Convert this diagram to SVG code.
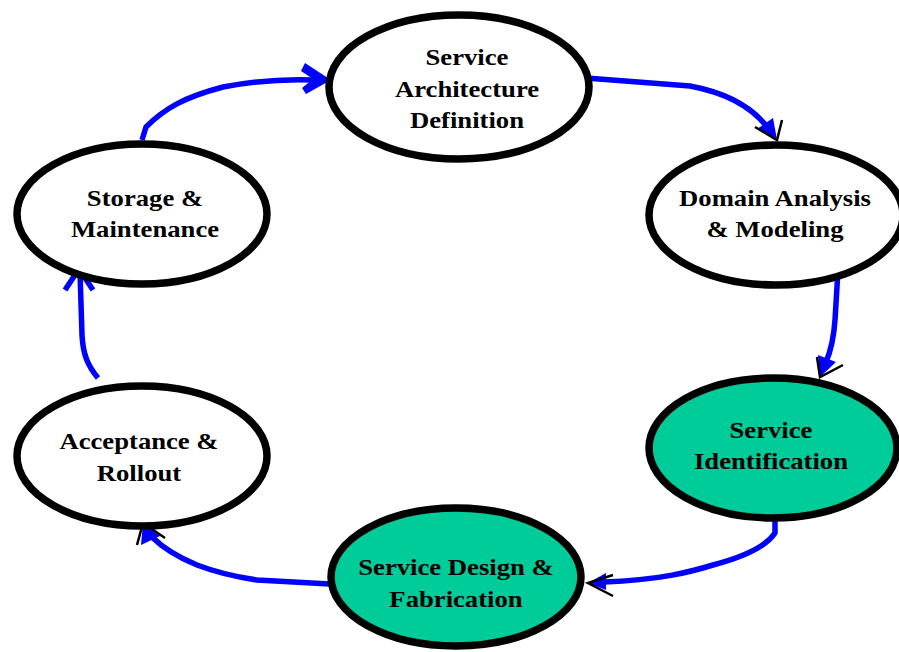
<svg xmlns="http://www.w3.org/2000/svg" width="899" height="652" viewBox="0 0 899 652">
  <style>
    .node { fill: #ffffff; stroke: #000000; stroke-width: 7.5; }
    .node.active { fill: #00cc99; }
    .label { font-family: "Liberation Serif", "Times New Roman", serif; font-weight: bold; font-size: 23px; fill: #000000; text-anchor: middle; }
    .flow { fill: none; stroke: #0000ff; stroke-width: 5.5; stroke-linejoin: round; }
    .head { fill: #0000ff; stroke: none; }
    .tick { fill: none; stroke: #000000; stroke-width: 2.5; }
    .openhead { fill: none; stroke: #0000ff; stroke-width: 5.5; stroke-linejoin: miter; }
  </style>
  <rect width="899" height="652" fill="#ffffff"/>

  <g id="connectors">
    <!-- Storage & Maintenance -> Service Architecture Definition -->
    <path class="flow" d="M142,140 L146,127 C165,108 185,97 223,87 C260,80 290,79 314,80"/>
    <path class="head" d="M331,80 L305,63 L301,71 L313,79 L302,88 L306,94 Z"/>
    <!-- Service Architecture Definition -> Domain Analysis & Modeling -->
    <path class="flow" d="M586,78 L690,86 C722,92 750,104 768,128"/>
    <polygon class="head" points="777,140 773,118 757,129"/>
    <polyline class="tick" points="755,127 777,140 782,120"/>
    <!-- Domain Analysis & Modeling -> Service Identification -->
    <path class="flow" d="M838,270 L835,320 C834,335 832,348 826,362"/>
    <polygon class="head" points="820,377 836,362 818,355"/>
    <polyline class="tick" points="817,357 820,377 843,365"/>
    <!-- Service Identification -> Service Design & Fabrication -->
    <path class="flow" d="M775,521 L775,533 C765,548 740,558 713,565 C690,572 660,580 604,582"/>
    <polygon class="head" points="588,583 606,573 606,590"/>
    <polyline class="tick" points="613,575 588,583 613,596"/>
    <!-- Service Design & Fabrication -> Acceptance & Rollout -->
    <path class="flow" d="M330,584 L257,580 C230,576 210,570 197,565 C180,558 165,550 152,537"/>
    <polygon class="head" points="143,523 141,545 160,536"/>
    <polyline class="tick" points="137,545 143,523 165,538"/>
    <!-- Acceptance & Rollout -> Storage & Maintenance -->
    <path class="flow" d="M98,378 C88,366 83,355 82,335 L80,272"/>
    <polyline class="openhead" points="65,290 79,269 93,290"/>
  </g>

  <g id="node-architecture">
    <ellipse class="node" cx="459" cy="87" rx="130" ry="72"/>
    <g transform="translate(467,0) scale(1.16,1)">
      <text class="label" x="0" y="65">Service</text>
      <text class="label" x="0" y="97">Architecture</text>
      <text class="label" x="0" y="128">Definition</text>
    </g>
  </g>

  <g id="node-domain">
    <ellipse class="node" cx="776" cy="215" rx="127" ry="70"/>
    <g transform="translate(775,0) scale(1.16,1)">
      <text class="label" x="0" y="206">Domain Analysis</text>
      <text class="label" x="0" y="237">&amp; Modeling</text>
    </g>
  </g>

  <g id="node-identification">
    <ellipse class="node active" cx="773" cy="448" rx="124" ry="70"/>
    <g transform="translate(771,0) scale(1.16,1)">
      <text class="label" x="0" y="438">Service</text>
      <text class="label" x="0" y="469">Identification</text>
    </g>
  </g>

  <g id="node-design">
    <ellipse class="node active" cx="456" cy="577" rx="125" ry="69"/>
    <g transform="translate(456,0) scale(1.16,1)">
      <text class="label" x="0" y="575">Service Design &amp;</text>
      <text class="label" x="0" y="607">Fabrication</text>
    </g>
  </g>

  <g id="node-acceptance">
    <ellipse class="node" cx="142" cy="456" rx="125" ry="70"/>
    <g transform="translate(139,0) scale(1.16,1)">
      <text class="label" x="0" y="449">Acceptance &amp;</text>
      <text class="label" x="0" y="481">Rollout</text>
    </g>
  </g>

  <g id="node-storage">
    <ellipse class="node" cx="142" cy="214" rx="125" ry="70"/>
    <g transform="translate(145,0) scale(1.16,1)">
      <text class="label" x="0" y="206">Storage &amp;</text>
      <text class="label" x="0" y="237">Maintenance</text>
    </g>
  </g>
</svg>
